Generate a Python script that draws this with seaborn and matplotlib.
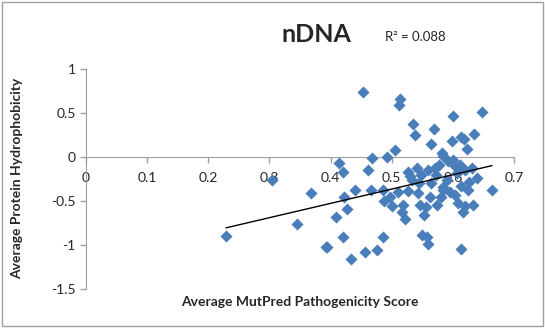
import numpy as np
import matplotlib
matplotlib.use("Agg")
import matplotlib.pyplot as plt
import seaborn as sns
import pandas as pd

# =========================================
# Data
# =========================================

pathogenicity = [
    0.229, 0.304, 0.368, 0.345, 0.393, 0.453, 0.514, 0.512, 0.535, 0.538,
    0.569, 0.564, 0.505, 0.414, 0.420, 0.468, 0.492, 0.461, 0.440, 0.422,
    0.427, 0.409, 0.466, 0.486, 0.497, 0.500, 0.519, 0.517, 0.522, 0.527,
    0.541, 0.533, 0.527, 0.543, 0.546, 0.556, 0.553, 0.563, 0.559, 0.571,
    0.577, 0.574, 0.584, 0.486, 0.456, 0.476, 0.433, 0.394, 0.420, 0.550,
    0.558, 0.559, 0.582, 0.600, 0.648, 0.635, 0.613, 0.618, 0.598, 0.623,
    0.600, 0.584, 0.612, 0.631, 0.640, 0.625, 0.664, 0.604, 0.609, 0.620,
    0.633, 0.617, 0.584, 0.613, 0.590, 0.530, 0.545, 0.592, 0.606, 0.627,
    0.572, 0.596, 0.614, 0.488, 0.510, 0.565, 0.580, 0.603, 0.620, 0.548,
]
hydrophobicity = [
    -0.90, -0.26, -0.41, -0.76, -1.02, 0.74, 0.66, 0.59, 0.37, 0.25,
    0.32, 0.15, 0.08, -0.07, -0.17, -0.01, 0.00, -0.15, -0.37, -0.46,
    -0.59, -0.68, -0.37, -0.37, -0.45, -0.56, -0.55, -0.63, -0.71, -0.17,
    -0.12, -0.26, -0.39, -0.41, -0.55, -0.57, -0.66, -0.45, -0.15, -0.12,
    -0.09, -0.55, -0.34, -0.91, -1.08, -1.06, -1.16, -1.02, -0.91, -0.89,
    -0.91, -0.99, 0.05, 0.47, 0.51, 0.26, 0.23, 0.21, 0.18, 0.09,
    -0.03, 0.01, -0.09, -0.12, -0.24, -0.38, -0.38, -0.43, -0.52, -0.56,
    -0.55, -0.62, -0.37, -1.05, -0.26, -0.22, -0.30, -0.05, -0.18, -0.28,
    -0.20, -0.40, -0.33, -0.50, -0.40, -0.30, -0.45, -0.10, -0.15, -0.20,
]

df = pd.DataFrame({"x": pathogenicity, "y": hydrophobicity})

# linear trend line
slope, intercept = np.polyfit(df["x"], df["y"], 1)
x_fit = np.array([df["x"].min(), df["x"].max()])
y_fit = slope * x_fit + intercept

# =========================================
# Plot
# =========================================

sns.set_style("white")
plt.rcParams['font.family'] = ['Lato', 'DejaVu Sans']

fig = plt.figure(figsize=(5.45, 3.28), dpi=100)
ax = fig.add_axes([86 / 545, 1 - 289 / 328, 428 / 545, 220 / 328])

sns.scatterplot(data=df, x="x", y="y", marker="D", s=38, color="#4A7EBB",
                edgecolor="#4A7EBB", linewidth=0, ax=ax, zorder=2)
ax.plot(x_fit, y_fit, color="black", lw=1, zorder=3)

ax.set_xlim(0, 0.7)
ax.set_ylim(-1.5, 1)
ax.set_xticks(np.arange(0, 0.71, 0.1))
ax.set_xticklabels(["0", "0.1", "0.2", "0.3", "0.4", "0.5", "0.6", "0.7"])
ax.set_yticks([-1.5, -1, -0.5, 0, 0.5, 1])
ax.set_yticklabels(["-1.5", "-1", "-0.5", "0", "0.5", "1"])

for s in ["top", "right"]:
    ax.spines[s].set_visible(False)
ax.spines["bottom"].set_position(("data", 0))
ax.spines["bottom"].set_color("#A0A0A0")
ax.spines["left"].set_color("#A0A0A0")
ax.spines["bottom"].set_zorder(1)
ax.tick_params(axis="both", direction="out", length=4, color="#A0A0A0",
               labelsize=10, width=1, left=True, bottom=True)
ax.tick_params(axis="x", pad=7)

ax.set_xlabel("")
ax.set_ylabel("")
fig.text(300 / 545, 1 - 302 / 328, "Average MutPred Pathogenicity Score",
         ha="center", va="center", fontsize=10, fontweight="bold")
fig.text(17 / 545, 1 - 178 / 328, "Average Protein Hydrophobicity",
         ha="center", va="center", rotation=90, fontsize=10, fontweight="bold")
fig.text(316 / 545, 1 - 35 / 328, "nDNA", ha="center", va="center",
         fontsize=18, fontweight="bold")
fig.text(415 / 545, 1 - 37 / 328, "R² = 0.088", ha="center", va="center",
         fontsize=9.5)

# chart border
fig.patches.append(plt.Rectangle((0.004, 0.006), 0.992, 0.988,
                                 transform=fig.transFigure, fill=False,
                                 edgecolor="#A0A0A0", lw=1))

fig.savefig("out.png", dpi=100)
